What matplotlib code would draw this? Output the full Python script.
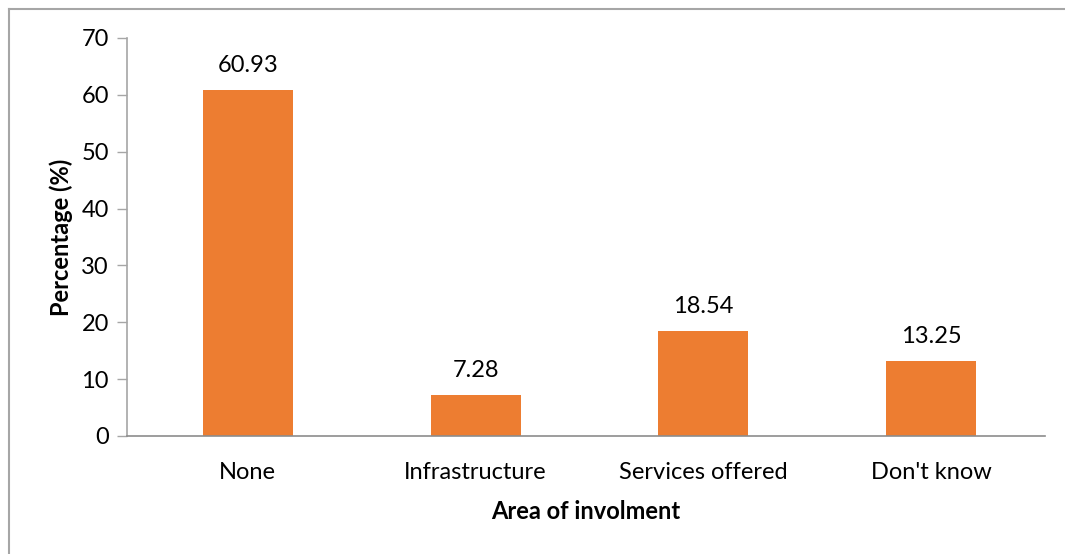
import matplotlib.pyplot as plt
from matplotlib.lines import Line2D

categories = ["None", "Infrastructure", "Services offered", "Don't know"]
percentages = [60.93, 7.28, 18.54, 13.25]
value_labels = ["60.93", "7.28", "18.54", "13.25"]

plt.rcParams['font.family'] = ['Lato', 'DejaVu Sans']
FS = 17

fig = plt.figure(figsize=(10.65, 5.54), dpi=100)
ax = fig.add_axes([127 / 1065, 1 - 436 / 554, 918 / 1065, 398 / 554])

x = range(len(categories))
bars = ax.bar(x, percentages, width=0.395, color='#ED7D31')

for bar, lab in zip(bars, value_labels):
    ax.annotate(lab, (bar.get_x() + bar.get_width() / 2, bar.get_height()),
                xytext=(0, 10), textcoords='offset points',
                ha='center', va='bottom', fontsize=FS)

ax.set_xlim(-0.53, len(categories) - 0.5)
ax.set_ylim(0, 70)
ax.set_yticks(range(0, 71, 10))
ax.set_xticks(list(x))
ax.set_xticklabels(categories)
ax.tick_params(axis='x', length=0, pad=19, labelsize=FS)
ax.tick_params(axis='y', length=7, width=1, color='#A6A6A6', pad=6, labelsize=FS)

for side in ['top', 'right']:
    ax.spines[side].set_visible(False)
ax.spines['left'].set_color('#A6A6A6')
ax.spines['bottom'].set_color('#8C8C8C')
ax.spines['left'].set_linewidth(1.2)
ax.spines['bottom'].set_linewidth(1.2)

ax.set_ylabel('Percentage (%)', fontsize=FS, fontweight='bold', labelpad=6)
ax.set_xlabel('Area of involment', fontsize=FS, fontweight='bold', labelpad=12)

# outer chart border: only the top and left edges fall inside the image
bx, by = 8.5 / 1065, 1 - 8.5 / 554
fig.lines.append(Line2D([bx, bx], [0, by], transform=fig.transFigure,
                        color='#A6A6A6', linewidth=1.5))
fig.lines.append(Line2D([bx, 1.01], [by, by], transform=fig.transFigure,
                        color='#A6A6A6', linewidth=1.5))

fig.savefig('out.png', dpi=100)
